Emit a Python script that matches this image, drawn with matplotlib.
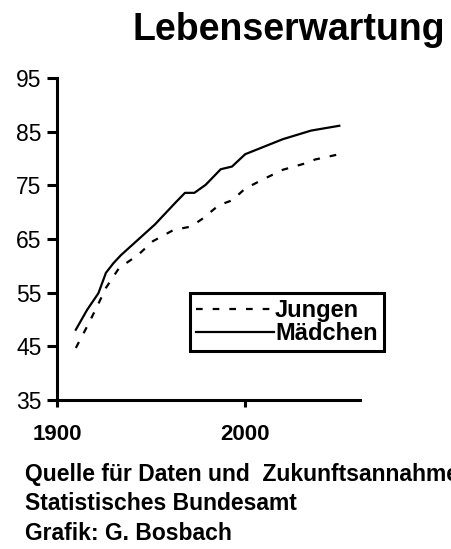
import matplotlib
matplotlib.use("Agg")
import matplotlib.pyplot as plt

plt.rcParams['font.family'] = ['Liberation Sans', 'DejaVu Sans']

# Lebenserwartung bei Geburt
jungen_jahre = [1910, 1916, 1921, 1926, 1933, 1943, 1951, 1962, 1971, 1977,
                1986, 1993, 2000, 2010, 2020, 2032, 2037, 2050]
jungen_werte = [44.7, 48.7, 52.2, 55.9, 59.6, 62.0, 64.6, 66.7, 67.3, 68.7,
                71.3, 72.2, 74.4, 76.2, 77.9, 79.1, 79.8, 80.8]

maedchen_jahre = [1910, 1916, 1922, 1926, 1930, 1934, 1952, 1963, 1968, 1973,
                  1979, 1987, 1993, 2000, 2010, 2020, 2035, 2050]
maedchen_werte = [48.1, 51.8, 54.9, 58.7, 60.5, 62.0, 67.7, 71.8, 73.6, 73.6,
                  75.1, 78.0, 78.5, 80.8, 82.2, 83.6, 85.2, 86.1]

y_ticks = [35, 45, 55, 65, 75, 85, 95]
x_ticks = [1900, 2000]

title = "Lebenserwartung"
footer = ["Quelle für Daten und  Zukunftsannahmen:",
          "Statistisches Bundesamt",
          "Grafik: G. Bosbach"]

W, H = 452, 549
fig = plt.figure(figsize=(W / 100, H / 100), dpi=100)
ax = fig.add_axes([57 / W, 1 - 400 / H, 303 / W, 322 / H])

l1, = ax.plot(jungen_jahre, jungen_werte, color='black', lw=1.6,
              linestyle=(0, (3, 4.5)), label='Jungen')
l2, = ax.plot(maedchen_jahre, maedchen_werte, color='black', lw=1.6,
              label='Mädchen')

ax.set_xlim(1900, 2061)
ax.set_ylim(35, 95)
ax.set_yticks(y_ticks)
ax.set_xticks(x_ticks)
ax.set_yticklabels([str(v) for v in y_ticks], fontsize=16.5)
ax.set_xticklabels([str(v) for v in x_ticks], fontsize=16, fontweight='bold')

for side in ['top', 'right']:
    ax.spines[side].set_visible(False)
for side in ['left', 'bottom']:
    ax.spines[side].set_linewidth(2.2)
ax.tick_params(axis='y', direction='out', length=7, width=2.2, pad=4)
ax.tick_params(axis='x', direction='out', length=5, width=2.2, pad=12)

leg = fig.legend(handles=[l1, l2], loc='upper left',
                 bbox_to_anchor=(190 / W, 1 - 293 / H),
                 prop={'size': 17, 'weight': 'bold'},
                 handlelength=3.3, handletextpad=0.05, labelspacing=0.0,
                 borderpad=0.25, borderaxespad=0, fancybox=False,
                 framealpha=1, edgecolor='black')
leg.get_frame().set_linewidth(2.2)

fig.text(445 / W, 1 - 30 / H, title, ha='right', va='center',
         fontsize=27, fontweight='bold')

for line, y in zip(footer, [474, 504, 534]):
    fig.text(25 / W, 1 - y / H, line, ha='left', va='center',
             fontsize=16.5, fontweight='bold')

fig.savefig("out.png", dpi=100)
